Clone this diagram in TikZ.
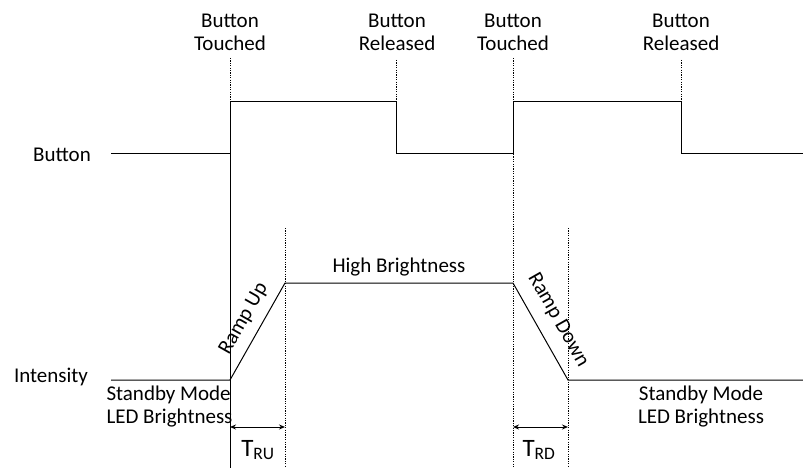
\documentclass[tikz,border=0pt]{standalone}
\usepackage{fontspec}
\setmainfont{Carlito}
\usetikzlibrary{arrows.meta}
\begin{document}
\begin{tikzpicture}[x=1pt, y=-1pt, line width=1pt,
  label text/.style={font=\fontsize{21}{23}\selectfont, inner sep=0pt, align=center},
  marker/.style={line width=0.9pt, dash pattern=on 1.2pt off 1.2pt},
  span arrow/.style={{Stealth[length=6pt,width=5pt]}-{Stealth[length=6pt,width=5pt]}}]%
\useasboundingbox (0,0) rectangle (803,468);
% signal corners
\coordinate (b0) at (111,154);
\coordinate (b1) at (230,154);
\coordinate (b2) at (230,102);
\coordinate (b3) at (396,102);
\coordinate (b4) at (396,154);
\coordinate (b5) at (513,154);
\coordinate (b6) at (513,102);
\coordinate (b7) at (681,102);
\coordinate (b8) at (681,154);
\coordinate (b9) at (803,154);
\coordinate (i0) at (111,380);
\coordinate (i1) at (230,380);
\coordinate (i2) at (285,283);
\coordinate (i3) at (513,283);
\coordinate (i4) at (568,380);
\coordinate (i5) at (803,380);
% marker ends
\coordinate (t1top) at (230,58);
\coordinate (t1bot) at (230,468);
\coordinate (r1top) at (396,60);
\coordinate (t2top) at (513,58);
\coordinate (t2bot) at (513,468);
\coordinate (r2top) at (681,60);
\coordinate (rutop) at (285,228);
\coordinate (rubot) at (285,468);
\coordinate (rdtop) at (568,228);
\coordinate (rdbot) at (568,468);
\coordinate (rua) at (230,427);
\coordinate (rub) at (285,427);
\coordinate (rda) at (513,427);
\coordinate (rdb) at (568,427);
\begin{scope}[every node/.style={label text}]
\node (lbutton) at (62,155) {Button};
\node (lintens) at (51,377) {Intensity};
\node (touch1) at (230,32) {Button\\Touched};
\node (rel1) at (397,32) {Button\\Released};
\node (touch2) at (513,32) {Button\\Touched};
\node (rel2) at (681,32) {Button\\Released};
\node (high) at (399,267) {High Brightness};
\node[anchor=west, align=left] (stby1) at (106,407) {Standby Mode\\LED Brightness};
\node (stby2) at (701,407) {Standby Mode\\LED Brightness};
\node[rotate=60.4] (rampup) at (244,319) {Ramp Up};
\node[rotate=-60.4] (rampdn) at (558,320) {Ramp Down};
\node[font=\fontsize{25}{28}\selectfont] (tru) at (258,450) {T\textsubscript{RU}};
\node[font=\fontsize{25}{28}\selectfont] (trd) at (539,450) {T\textsubscript{RD}};
\end{scope}
% button and intensity
\draw (b0) -- (b1) -- (b2) -- (b3) -- (b4) -- (b5) -- (b6) -- (b7) -- (b8) -- (b9);
\draw (i0) -- (i1) -- (i2) -- (i3) -- (i4) -- (i5);
\draw (b1) -- (t1bot);
\begin{scope}[marker]
\draw (t1top) -- (b2);
\draw (r1top) -- (b3);
\draw (t2top) -- (b6);
\draw (b5) -- (t2bot);
\draw (r2top) -- (b7);
\draw (rutop) -- (rubot);
\draw (rdtop) -- (rdbot);
\end{scope}
\draw[span arrow] (rua) -- (rub);
\draw[span arrow] (rda) -- (rdb);
\end{tikzpicture}
\end{document}
